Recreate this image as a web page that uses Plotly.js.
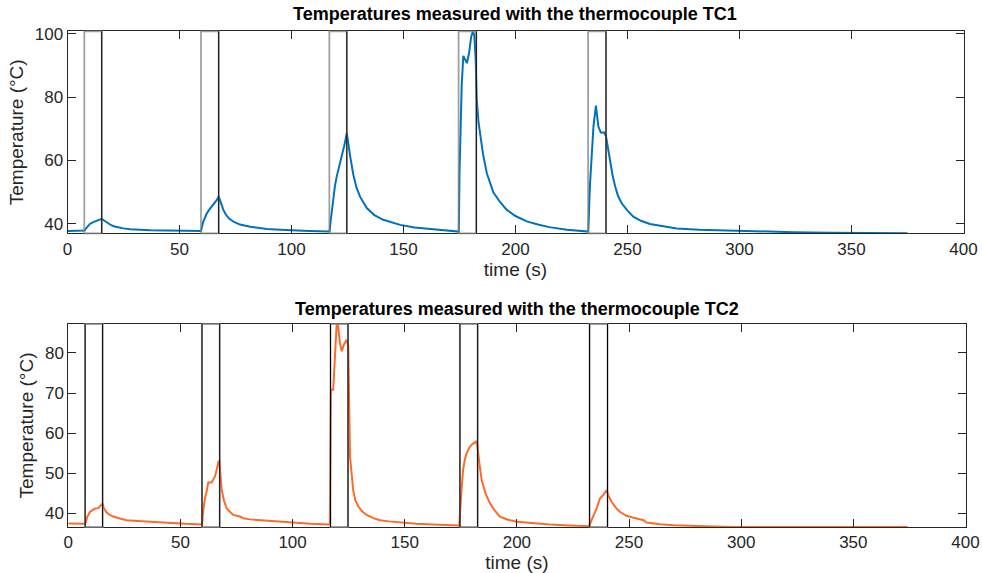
<!DOCTYPE html>
<html>
<head>
<meta charset="utf-8">
<script src="https://cdn.plot.ly/plotly-3.0.1.min.js"></script>
<style>
html,body{margin:0;padding:0;background:#fff;}
#chart{width:982px;height:573px;}
</style>
</head>
<body>
<div id="chart"></div>
<script>
// ---- data ----
const title1 = "Temperatures measured with the thermocouple TC1";
const title2 = "Temperatures measured with the thermocouple TC2";
const xLabel = "time (s)";
const yLabel = "Temperature (°C)";

// heating intervals (s)
const eventStart = [7.5, 59.6, 116.9, 174.6, 232.4];
const eventEnd   = [15.3, 67.5, 124.7, 182.5, 240.4];

// TC1
const t1 = [0, 7.3, 7.6, 8.5, 10, 11.5, 13.1, 14.5, 15.3, 16.5, 18, 19.5, 21, 23, 25, 28, 32, 37, 45, 52, 59.4,
  59.6, 60.5, 62.1, 63.3, 64.4, 65.6, 66.6, 67.5, 68.5, 69.5, 70.4, 72, 74.1, 77, 81.5, 85, 89, 95, 100, 108, 116.7,
  117.0, 117.5, 118, 118.7, 119.4, 120.2, 121.3, 122.4, 123.6, 124.7, 125.4, 126.2, 127.6, 129, 130.6, 133.6, 137, 141, 148.5, 155, 163.3, 174.4,
  174.7, 175.0, 175.5, 176.0, 176.7, 177.5, 178.3, 179.3, 180.2, 181.0, 181.6, 182.2, 182.7, 183.5, 184.2, 185.5, 187.2, 190.1, 193, 196, 200, 205, 210, 215, 223, 232.2,
  232.5, 233.2, 234, 234.8, 235.9, 237, 238.1, 239.6, 240.4, 241.3, 242.2, 243.3, 244.5, 245.8, 247.4, 250, 252.6, 256, 260, 266, 272, 282, 294.3, 310, 324, 340, 355, 375];
const tc1 = [37.8, 37.8, 37.9, 38.8, 40.0, 40.6, 41.0, 41.4, 41.6, 41.0, 40.2, 39.6, 39.2, 38.8, 38.6, 38.3, 38.1, 38.0, 37.9, 37.8, 37.75,
  37.8, 40.5, 43.2, 44.5, 45.4, 46.5, 47.5, 48.7, 46.5, 44.6, 43.3, 41.8, 40.7, 39.8, 39.1, 38.7, 38.4, 38.2, 38.0, 37.8, 37.6,
  37.6, 41.0, 43.8, 48.5, 52.0, 55.0, 58.0, 61.3, 64.8, 68.6, 65.0, 61.3, 55.5, 51.5, 48.6, 45.0, 42.8, 41.3, 39.7, 38.9, 38.3, 37.7,
  37.6, 56.0, 72.0, 84.0, 93.0, 91.8, 90.7, 94.0, 99.0, 100.75, 99.5, 92.0, 79.2, 72.0, 68.0, 62.0, 56.0, 50.0, 47.0, 44.5, 42.5, 40.8, 39.8, 39.0, 38.2, 37.7,
  37.6, 51.8, 63.4, 70.7, 77.3, 70.7, 68.8, 68.8, 67.6, 63.5, 60.2, 55.5, 51.8, 48.8, 46.5, 44.2, 42.3, 41.0, 40.0, 39.2, 38.6, 38.2, 37.9, 37.6, 37.4, 37.25, 37.15, 37.05];

// TC2
const t2 = [0, 7.6, 8.0, 8.5, 9.7, 10.8, 11.9, 13.4, 14.4, 15.3, 15.8, 17.1, 18.5, 20, 23, 26, 31, 36.4, 45, 52, 59.5,
  59.7, 60.1, 60.9, 61.7, 62.4, 63.9, 65.4, 66.2, 66.9, 67.3, 67.6, 67.9, 68.4, 69.4, 70.6, 72, 73.5, 76.5, 78, 81, 88.4, 94, 100.3, 108, 116.3,
  116.6, 116.9, 117.1, 118.1, 118.9, 119.6, 120.2, 121.1, 121.9, 122.9, 124.1, 124.8, 125.6, 127, 128, 129.3, 131, 133, 136, 138.9, 143, 147.8, 155, 162.7, 173.8,
  174.3, 175.3, 176, 176.8, 177.6, 178.7, 179.8, 180.8, 181.7, 182.3, 182.8, 183.5, 184.3, 186, 188, 190, 192.4, 196, 199.9, 207, 214.7, 223, 231.8,
  232.2, 233.8, 235.5, 237, 238.5, 240, 241, 242.2, 244, 245.9, 248.9, 252, 254.8, 256.5, 257.8, 260, 263.7, 270, 278.6, 288, 296.4, 305, 310, 330, 350, 365, 374.2];
const tc2 = [37.5, 37.4, 38.2, 39.2, 40.4, 40.9, 41.2, 41.3, 41.9, 42.5, 41.3, 40.2, 39.6, 39.2, 38.7, 38.3, 38.1, 37.9, 37.6, 37.4, 37.25,
  37.3, 40.4, 43.7, 45.5, 47.7, 47.7, 49.2, 51.0, 52.9, 53.0, 50.0, 49.2, 45.8, 43.2, 41.2, 40.3, 39.6, 39.2, 38.8, 38.5, 38.2, 37.9, 37.7, 37.4, 37.2,
  37.1, 60.0, 70.8, 70.8, 79.2, 86.7, 87.2, 82.5, 80.4, 82.1, 83.3, 81.7, 54.2, 45.8, 43.2, 41.7, 40.5, 39.6, 38.8, 38.3, 38.0, 37.7, 37.4, 37.25, 36.9,
  37.0, 45.8, 50.8, 53.5, 55.0, 56.3, 57.1, 57.5, 57.9, 57.0, 54.2, 51.5, 48.3, 45.0, 42.5, 40.8, 39.2, 38.4, 37.9, 37.5, 37.25, 37.0, 36.85,
  36.8, 39.0, 41.2, 43.7, 44.6, 45.8, 44.2, 42.9, 41.5, 40.4, 39.4, 38.9, 38.5, 38.3, 37.7, 37.5, 37.3, 37.05, 36.8, 36.7, 36.6, 36.6, 36.75, 36.75, 36.7, 36.65, 36.6];

const xTicks = [0, 50, 100, 150, 200, 250, 300, 350, 400];
const y1Ticks = [40, 60, 80, 100];
const y2Ticks = [40, 50, 60, 70, 80];
const xRange = [0, 400];
const y1Range = [37.05, 100.75];
const y2Range = [36.6, 87.2];

// ---- figure ----
const W = 982, H = 573;
const FONT = "Liberation Sans, Arial, Helvetica, sans-serif";
const axCol = "#262626";

const traces = [
  {x: t1, y: tc1, type: "scatter", mode: "lines", xaxis: "x", yaxis: "y",
   line: {color: "#0072BD", width: 2}, hoverinfo: "x+y", showlegend: false},
  {x: t2, y: tc2, type: "scatter", mode: "lines", xaxis: "x2", yaxis: "y2",
   line: {color: "#FF6A2A", width: 2}, hoverinfo: "x+y", showlegend: false}
];

const shapes = [];
eventStart.forEach((s, i) => {
  const e = eventEnd[i];
  [["x", "y domain"], ["x2", "y2 domain"]].forEach(([xr, yr], k) => {
    shapes.push({type: "rect", xref: xr, yref: yr, x0: s, x1: e, y0: 0, y1: 1,
      line: {color: "rgba(128,128,128,0.75)", width: 1.8}, fillcolor: "rgba(0,0,0,0)", layer: "above"});
    shapes.push({type: "line", xref: xr, yref: yr, x0: e, x1: e, y0: 0, y1: 1,
      line: {color: "#000", width: 1}, layer: "above"});
    if (k === 1) {
      shapes.push({type: "line", xref: xr, yref: yr, x0: s, x1: s, y0: 0, y1: 1,
        line: {color: "#000", width: 1}, layer: "above"});
    }
  });
});

function xa(domain, anchor) {
  return {domain: domain, anchor: anchor, range: xRange, tickvals: xTicks,
    ticks: "inside", ticklen: 8, tickcolor: axCol, tickwidth: 1,
    showline: true, linecolor: axCol, linewidth: 1, mirror: "allticks",
    showgrid: false, zeroline: false,
    tickfont: {family: FONT, size: 17, color: axCol},
    title: {text: xLabel, font: {family: FONT, size: 19, color: axCol}, standoff: 2}};
}
function ya(domain, anchor, range, ticks) {
  return {domain: domain, anchor: anchor, range: range, tickvals: ticks,
    ticks: "inside", ticklen: 8, tickcolor: axCol, tickwidth: 1,
    showline: true, linecolor: axCol, linewidth: 1, mirror: "allticks",
    showgrid: false, zeroline: false,
    tickfont: {family: FONT, size: 17, color: axCol},
    title: {text: yLabel, font: {family: FONT, size: 19, color: axCol}, standoff: 6}};
}

const xDom1 = [67.5 / W, 963.5 / W];
const xDom2 = [68.3 / W, 965.5 / W];
const yDom1 = [(H - 233.3) / H, (H - 31.3) / H];
const yDom2 = [(H - 527) / H, (H - 324) / H];

const layout = {
  width: W, height: H,
  margin: {l: 0, r: 0, t: 0, b: 0, pad: 0},
  paper_bgcolor: "#fff", plot_bgcolor: "#fff",
  showlegend: false,
  xaxis: xa(xDom1, "y"),
  yaxis: ya(yDom1, "x", y1Range, y1Ticks),
  xaxis2: xa(xDom2, "y2"),
  yaxis2: ya(yDom2, "x2", y2Range, y2Ticks),
  shapes: shapes,
  annotations: [
    {text: "<b>" + title1 + "</b>", xref: "paper", yref: "paper",
     x: (xDom1[0] + xDom1[1]) / 2, y: (H - 14) / H, xanchor: "center", yanchor: "middle",
     showarrow: false, font: {family: FONT, size: 18, color: "#000"}},
    {text: "<b>" + title2 + "</b>", xref: "paper", yref: "paper",
     x: (xDom2[0] + xDom2[1]) / 2, y: (H - 309) / H, xanchor: "center", yanchor: "middle",
     showarrow: false, font: {family: FONT, size: 18, color: "#000"}}
  ]
};

Plotly.newPlot("chart", traces, layout, {displayModeBar: false, staticPlot: true});
</script>
</body>
</html>
